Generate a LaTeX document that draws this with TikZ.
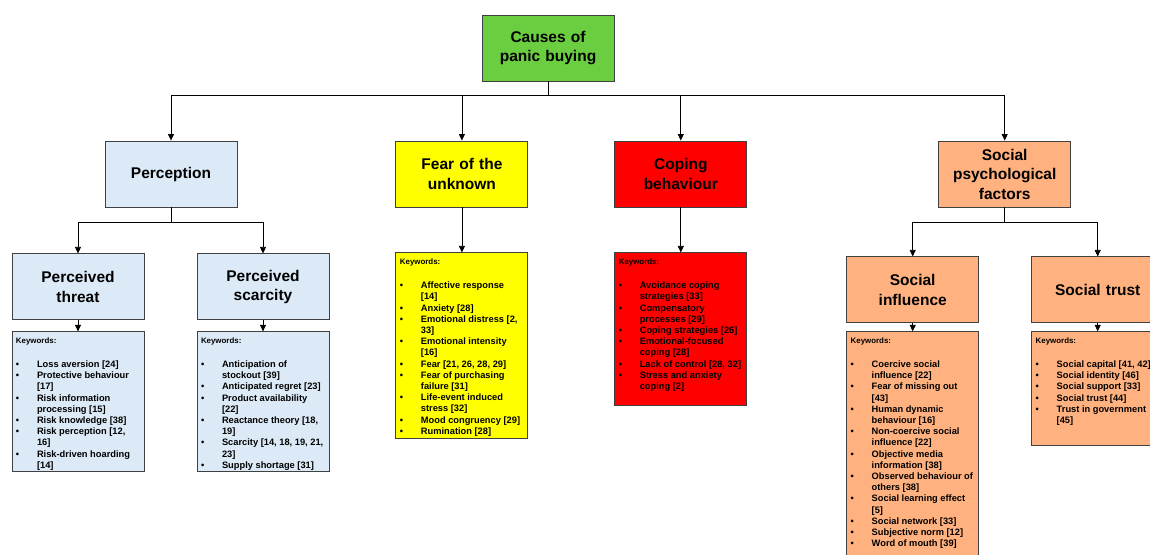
\documentclass[tikz,border=0pt]{standalone}
\usepackage{xcolor}
\usepackage{fontspec}
\setmainfont{Liberation Sans}
\usepackage{tikz}
\usetikzlibrary{shapes,arrows.meta,positioning,calc}

\definecolor{rootgreen}{RGB}{106,206,64}
\definecolor{paleblue}{RGB}{220,234,247}
\definecolor{brightyellow}{RGB}{255,255,0}
\definecolor{brightred}{RGB}{255,0,0}
\definecolor{salmon}{RGB}{255,178,128}

\newenvironment{kwlist}{\begin{list}{\textbullet}{\setlength{\leftmargin}{21pt}\setlength{\labelwidth}{17pt}\setlength{\labelsep}{4pt}\setlength{\itemsep}{0pt}\setlength{\parsep}{0pt}\setlength{\topsep}{0pt}\setlength{\partopsep}{0pt}\renewcommand{\makelabel}[1]{##1\hfil}}}{\end{list}}
\newcommand{\kwtext}[2]{\parbox[t][#1][t]{124pt}{\raggedright\setlength{\parskip}{0pt}{\fontsize{7.9}{9}\selectfont Keywords:\par}\vspace{12.8pt}\fontsize{9.3}{11.2}\selectfont\begin{kwlist}#2\end{kwlist}}}

\begin{document}
\begin{tikzpicture}[
        x=1pt, y=1pt,
        component/.style={rectangle, draw=black!75, line width=0.9pt, minimum width=132pt, minimum height=66pt, text width=124pt, align=center, inner sep=2pt, font=\bfseries\fontsize{15.5}{19.5}\selectfont},
        keywords/.style={rectangle, draw=black!75, line width=0.9pt, anchor=north, inner xsep=4pt, inner ysep=6pt, font=\bfseries},
        arrow/.style={-{Triangle[length=6.5pt,width=6pt]}, line width=0.7pt}
    ]
    \useasboundingbox (0,0) rectangle (1150,-554);
    \clip (0,0) rectangle (1150,-554);

    \node[component, fill=rootgreen] (root) at (548,-48) {Causes of\\panic buying};

    \node[component, fill=paleblue] (perception) at (171,-174) {Perception};
    \node[component, fill=brightyellow, right=158pt of perception] (fear) {Fear of the\\unknown};
    \node[component, fill=brightred, right=86pt of fear] (coping) {Coping\\behaviour};
    \node[component, fill=salmon, right=191pt of coping] (psych) {Social\\psychological\\factors};

    \node[component, fill=paleblue, below=46pt of perception, xshift=-93pt] (threat) {Perceived\\threat};
    \node[component, fill=paleblue, below=46pt of perception, xshift=92pt] (scarcity) {Perceived\\scarcity};
    \node[component, fill=salmon, below=49pt of psych, xshift=-92pt] (influence) {Social\\influence};
    \node[component, fill=salmon, below=49pt of psych, xshift=93pt] (trust) {Social trust};

    % keyword lists
    \node[keywords, fill=paleblue, below=11pt of threat] (threatkw) {\kwtext{128pt}{%
        \item Loss aversion [24]
        \item Protective behaviour\newline [17]
        \item Risk information\newline processing [15]
        \item Risk knowledge [38]
        \item Risk perception [12,\newline 16]
        \item Risk-driven hoarding\newline [14]}};
    \node[keywords, fill=paleblue, below=11pt of scarcity] (scarcitykw) {\kwtext{128pt}{%
        \item Anticipation of\newline stockout [39]
        \item Anticipated regret [23]
        \item Product availability\newline [22]
        \item Reactance theory [18,\newline 19]
        \item Scarcity [14, 18, 19, 21,\newline 23]
        \item Supply shortage [31]}};
    \node[keywords, fill=brightyellow, below=45pt of fear] (fearkw) {\kwtext{174pt}{%
        \item Affective response\newline [14]
        \item Anxiety [28]
        \item Emotional distress [2,\newline 33]
        \item Emotional intensity\newline [16]
        \item Fear [21, 26, 28, 29]
        \item Fear of purchasing\newline failure [31]
        \item Life-event induced\newline stress [32]
        \item Mood congruency [29]
        \item Rumination [28]}};
    \node[keywords, fill=brightred, below=45pt of coping] (copingkw) {\kwtext{141pt}{%
        \item Avoidance coping\newline strategies [33]
        \item Compensatory\newline processes [29]
        \item Coping strategies [26]
        \item Emotional-focused\newline coping [28]
        \item Lack of control [28, 32]
        \item Stress and anxiety\newline coping [2]}};
    \node[keywords, fill=salmon, below=8pt of influence] (influencekw) {\kwtext{214pt}{%
        \item Coercive social\newline influence [22]
        \item Fear of missing out\newline [43]
        \item Human dynamic\newline behaviour [16]
        \item Non-coercive social\newline influence [22]
        \item Objective media\newline information [38]
        \item Observed behaviour of\newline others [38]
        \item Social learning effect\newline [5]
        \item Social network [33]
        \item Subjective norm [12]
        \item Word of mouth [39]}};
    \node[keywords, fill=salmon, below=8pt of trust] (trustkw) {\kwtext{102pt}{%
        \item Social capital [41, 42]
        \item Social identity [46]
        \item Social support [33]
        \item Social trust [44]
        \item Trust in government\newline [45]}};

    % tree connectors
    \draw[arrow] (root.south) -- ++(0,-14) -| (perception.north);
    \draw[arrow] (root.south) -- ++(0,-14) -| (fear.north);
    \draw[arrow] (root.south) -- ++(0,-14) -| (coping.north);
    \draw[arrow] (root.south) -- ++(0,-14) -| (psych.north);

    \draw[arrow] (perception.south) -- ++(0,-15) -| (threat.north);
    \draw[arrow] (perception.south) -- ++(0,-15) -| (scarcity.north);
    \draw[arrow] (psych.south) -- ++(0,-15) -| (influence.north);
    \draw[arrow] (psych.south) -- ++(0,-15) -| (trust.north);

    \draw[arrow] (threat) -- (threatkw);
    \draw[arrow] (scarcity) -- (scarcitykw);
    \draw[arrow] (fear) -- (fearkw);
    \draw[arrow] (coping) -- (copingkw);
    \draw[arrow] (influence) -- (influencekw);
    \draw[arrow] (trust) -- (trustkw);

\end{tikzpicture}
\end{document}
